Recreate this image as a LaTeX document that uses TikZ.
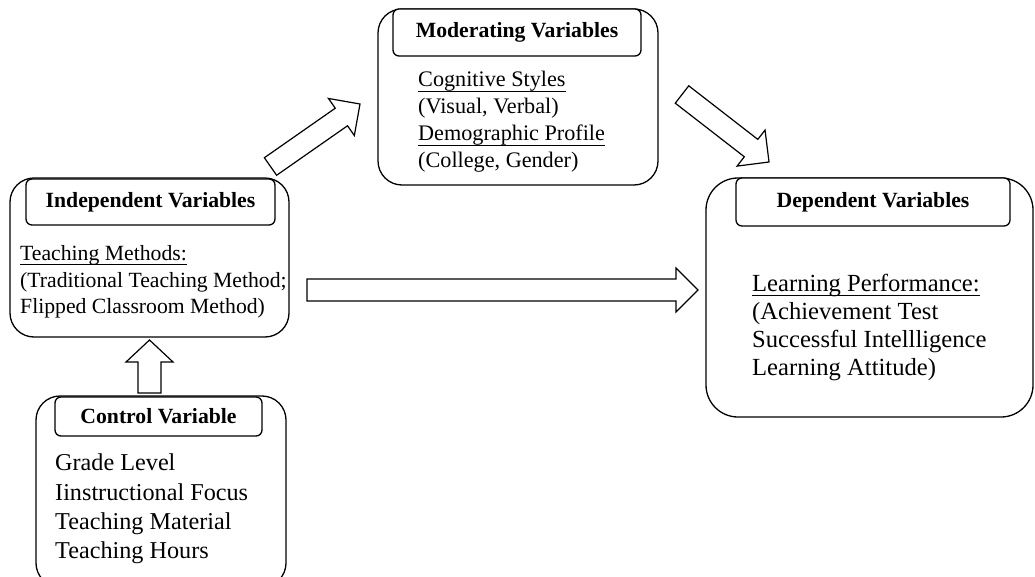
\documentclass[tikz,border=0pt]{standalone}
\usepackage{fontspec}
\setmainfont{Liberation Serif}
\usetikzlibrary{calc}
\tikzset{
  outerbox/.style={draw, line width=1.3pt, rounded corners=24pt, inner sep=0pt, fill=white},
  titlebox/.style={draw, line width=1.3pt, rounded corners=6pt, inner sep=0pt, fill=white,
    font=\fontsize{21.7}{26}\selectfont\bfseries},
  bodytext/.style={anchor=base west, inner sep=0pt},
  blockarrow/.style={draw, line width=1.2pt, fill=white, line join=miter},
  uline/.style={line width=0.9pt},
}
\newcommand\fatarrow[5]{%
  \coordinate (fa-c) at ($(#2)!#5!(#1)$);
  \draw[blockarrow] ($(#1)!#3!90:(#2)$) -- ($(fa-c)!#3!90:(#2)$) -- ($(fa-c)!#4!90:(#2)$)
    -- (#2) -- ($(fa-c)!#4!-90:(#2)$) -- ($(fa-c)!#3!-90:(#2)$) -- ($(#1)!#3!-90:(#2)$) -- cycle;}
\begin{document}
\begin{tikzpicture}[x=1pt, y=-1pt]
\fill[white] (0,0) rectangle (1035,577);
\useasboundingbox (0,0) rectangle (1035,577);

% outer boxes
\node[outerbox, minimum width=279pt, minimum height=159pt] (indep) at (149.5,257.5) {};
\node[outerbox, minimum width=250pt, minimum height=191pt] (ctrl) at (161,491.5) {};
\node[outerbox, minimum width=280pt, minimum height=176pt] (mod) at (518,97) {};
\node[outerbox, rounded corners=32pt, minimum width=327pt, minimum height=239pt] (dep) at (869.5,297.5) {};

% title boxes
\node[titlebox, minimum width=249pt, minimum height=46pt] (indepT) at (150.5,202) {Independent Variables};
\node[titlebox, minimum width=207pt, minimum height=39pt] (ctrlT) at (158.5,416.5) {Control Variable};
\node[titlebox, minimum width=248pt, minimum height=47pt] (modT) at (517,32.5) {Moderating Variables};
\node[titlebox, minimum width=274pt, minimum height=48pt] (depT) at (873,202) {Dependent Variables};

% independent body
\begin{scope}[every node/.style={bodytext, font=\fontsize{21.7}{26}\selectfont}]
\node (i1) at (20,260) {Teaching Methods:};
\node (i2) at (20,287) {(Traditional Teaching Method;};
\node (i3) at (20,313) {Flipped Classroom Method)};
\end{scope}
\draw[uline] ([yshift=-4pt]i1.base west) -- ([yshift=-4pt]i1.base east);

% control body
\begin{scope}[every node/.style={bodytext, font=\fontsize{24.2}{29}\selectfont}]
\node (c1) at (55,470) {Grade Level};
\node (c2) at (55,500) {Iinstructional Focus};
\node (c3) at (55,529) {Teaching Material};
\node (c4) at (55,558) {Teaching Hours};
\end{scope}

% moderating body
\begin{scope}[every node/.style={bodytext, font=\fontsize{22.2}{27}\selectfont}]
\node (m1) at (418,87) {Cognitive Styles};
\node (m2) at (418,114) {(Visual, Verbal)};
\node (m3) at (418,141) {Demographic Profile};
\node (m4) at (418,168) {(College, Gender)};
\end{scope}
\draw[uline] ([yshift=-4pt]m1.base west) -- ([yshift=-4pt]m1.base east);
\draw[uline] ([yshift=-4pt]m3.base west) -- ([yshift=-4pt]m3.base east);

% dependent body
\begin{scope}[every node/.style={bodytext, font=\fontsize{24.6}{28}\selectfont}]
\node (d1) at (752,291) {Learning Performance:};
\node (d2) at (752,319) {(Achievement Test};
\node (d3) at (752,347) {Successful Intellligence};
\node (d4) at (752,375) {Learning Attitude)};
\end{scope}
\draw[uline] ([yshift=-4pt]d1.base west) -- ([yshift=-4pt]d1.base east);

% block arrows
\coordinate (upS) at (149.5,393);
\coordinate (upE) at (149.5,340);
\coordinate (hS) at (307,290);
\coordinate (hE) at (698,290);
\coordinate (d1S) at (270.5,166.5);
\coordinate (d1E) at (360,104);
\coordinate (d2S) at (682,94.5);
\coordinate (d2E) at (769,162);
\fatarrow{upS}{upE}{11.5pt}{23.5pt}{22pt}
\fatarrow{hS}{hE}{11pt}{22pt}{22pt}
\fatarrow{d1S}{d1E}{10.7pt}{22.6pt}{22.7pt}
\fatarrow{d2S}{d2E}{11pt}{22.8pt}{22.7pt}
\end{tikzpicture}
\end{document}
